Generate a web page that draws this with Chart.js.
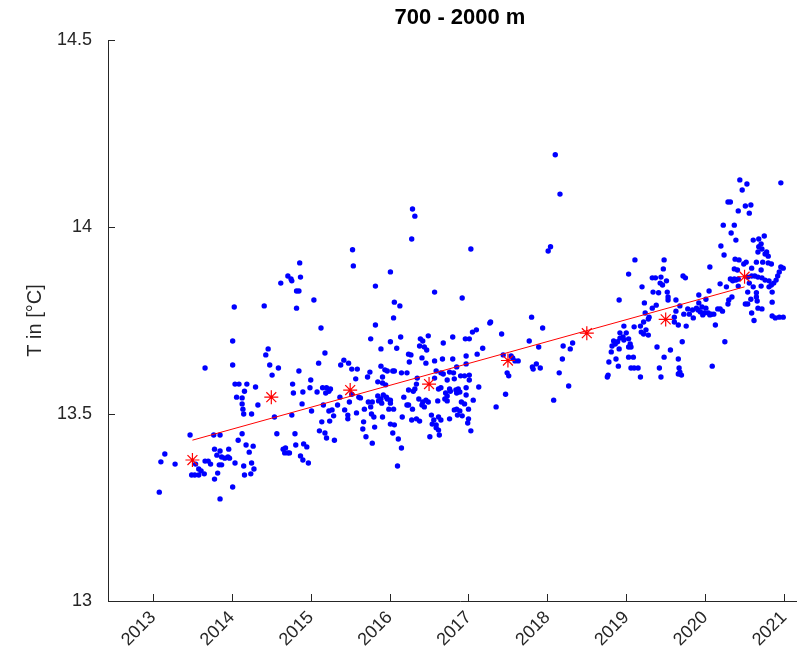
<!DOCTYPE html>
<html><head><meta charset="utf-8">
<script src="https://cdn.jsdelivr.net/npm/chart.js@4.4.1/dist/chart.umd.min.js"></script>
<style>
html,body{margin:0;padding:0;overflow:hidden;background:#fff;}
#wrap{position:relative;width:812px;height:662px;}
canvas{display:block;}
</style></head><body>
<div id="wrap"><canvas id="c" width="812" height="662" style="width:812px;height:662px"></canvas></div>
<script>
// ---- data: [decimal year, temperature °C] ----
const dots2013 = [[2013.66,13.623],[2013.47,13.444],[2013.77,13.444],[2013.85,13.444],[2013.15,13.393],[2013.78,13.406],[2013.85,13.401],[2013.96,13.406],[2013.81,13.390],[2013.87,13.385],[2013.91,13.382],[2013.95,13.385],[2013.97,13.382],[2013.10,13.372],[2013.28,13.366],[2013.66,13.374],[2013.70,13.374],[2013.73,13.366],[2013.54,13.366],[2013.84,13.364],[2013.87,13.364],[2013.58,13.353],[2013.61,13.348],[2013.49,13.337],[2013.53,13.337],[2013.58,13.337],[2013.65,13.340],[2013.82,13.342],[2013.78,13.326],[2013.08,13.291],[2013.85,13.273]];
const dots2014 = [[2014.03,13.786],[2014.01,13.695],[2014.01,13.631],[2014.04,13.580],[2014.09,13.580],[2014.19,13.580],[2014.30,13.572],[2014.16,13.561],[2014.06,13.545],[2014.13,13.543],[2014.13,13.527],[2014.14,13.513],[2014.15,13.500],[2014.25,13.500],[2014.33,13.524],[2014.13,13.447],[2014.08,13.430],[2014.18,13.417],[2014.27,13.414],[2014.22,13.398],[2014.04,13.369],[2014.15,13.361],[2014.25,13.369],[2014.28,13.353],[2014.16,13.337],[2014.24,13.340],[2014.01,13.305],[2014.86,13.904],[2014.71,13.869],[2014.75,13.861],[2014.76,13.856],[2014.87,13.866],[2014.62,13.850],[2014.82,13.829],[2014.85,13.829],[2014.41,13.789],[2014.82,13.783],[2014.46,13.674],[2014.43,13.658],[2014.48,13.631],[2014.59,13.623],[2014.51,13.604],[2014.85,13.615],[2014.77,13.580],[2014.99,13.570],[2014.78,13.556],[2014.90,13.559],[2014.89,13.527],[2014.54,13.492],[2014.76,13.497],[2014.57,13.447],[2014.80,13.447],[2014.65,13.406],[2014.68,13.409],[2014.71,13.396],[2014.67,13.396],[2014.73,13.396],[2014.81,13.417],[2014.91,13.420],[2014.95,13.412],[2014.87,13.388],[2014.90,13.377],[2014.97,13.369]];
const dots2015 = [[2015.53,13.939],[2015.54,13.896],[2015.04,13.805],[2015.13,13.730],[2015.76,13.701],[2015.18,13.663],[2015.10,13.636],[2015.42,13.644],[2015.38,13.631],[2015.48,13.636],[2015.52,13.620],[2015.59,13.620],[2015.75,13.612],[2015.72,13.599],[2015.57,13.594],[2015.00,13.591],[2015.15,13.570],[2015.20,13.570],[2015.23,13.561],[2015.25,13.567],[2015.08,13.559],[2015.19,13.556],[2015.37,13.545],[2015.52,13.553],[2015.61,13.545],[2015.63,13.543],[2015.16,13.524],[2015.34,13.524],[2015.49,13.532],[2015.73,13.532],[2015.23,13.508],[2015.27,13.511],[2015.29,13.495],[2015.01,13.508],[2015.43,13.511],[2015.47,13.497],[2015.47,13.487],[2015.58,13.503],[2015.68,13.513],[2015.77,13.500],[2015.80,13.492],[2015.14,13.479],[2015.24,13.481],[2015.67,13.479],[2015.11,13.455],[2015.18,13.449],[2015.20,13.436],[2015.30,13.430],[2015.66,13.460],[2015.70,13.439],[2015.78,13.422],[2015.82,13.842],[2015.82,13.738],[2015.89,13.674],[2015.89,13.628],[2015.94,13.618],[2015.97,13.615],[2015.91,13.599],[2015.85,13.586],[2015.91,13.583],[2015.95,13.578],[2015.92,13.551],[2015.89,13.540],[2015.96,13.545],[2015.85,13.548],[2015.97,13.540],[2015.78,13.532],[2015.76,13.519],[2015.86,13.535],[2015.90,13.529],[2015.99,13.513],[2015.91,13.492],[2015.81,13.465]];
const dots2016 = [[2016.29,14.048],[2016.32,14.029],[2016.28,13.968],[2016.01,13.880],[2016.57,13.826],[2016.92,13.810],[2016.06,13.799],[2016.13,13.789],[2016.05,13.757],[2016.14,13.706],[2016.39,13.701],[2016.42,13.695],[2016.49,13.709],[2016.80,13.706],[2016.96,13.701],[2016.01,13.693],[2016.09,13.676],[2016.38,13.682],[2016.44,13.679],[2016.47,13.671],[2016.68,13.690],[2016.24,13.660],[2016.27,13.658],[2016.41,13.650],[2016.97,13.655],[2016.57,13.642],[2016.67,13.647],[2016.80,13.647],[2016.25,13.639],[2016.46,13.636],[2016.97,13.634],[2016.85,13.626],[2016.04,13.615],[2016.06,13.615],[2016.15,13.610],[2016.22,13.610],[2016.59,13.615],[2016.65,13.610],[2016.68,13.607],[2016.76,13.612],[2016.81,13.610],[2016.90,13.602],[2016.95,13.602],[2016.35,13.596],[2016.57,13.596],[2016.82,13.594],[2016.73,13.591],[2016.34,13.580],[2016.62,13.567],[2016.65,13.570],[2016.76,13.567],[2016.77,13.561],[2016.87,13.567],[2016.97,13.570],[2016.32,13.567],[2016.24,13.564],[2016.01,13.537],[2016.18,13.545],[2016.30,13.561],[2016.37,13.540],[2016.42,13.532],[2016.46,13.537],[2016.49,13.532],[2016.71,13.556],[2016.73,13.548],[2016.70,13.540],[2016.84,13.564],[2016.85,13.556],[2016.89,13.559],[2016.97,13.551],[2016.73,13.535],[2016.61,13.535],[2016.91,13.532],[2016.01,13.529],[2016.22,13.524],[2016.24,13.524],[2016.29,13.513],[2016.41,13.524],[2016.44,13.519],[2016.82,13.511],[2016.85,13.513],[2016.89,13.508],[2016.95,13.527],[2016.05,13.513],[2016.16,13.492],[2016.28,13.484],[2016.34,13.487],[2016.38,13.481],[2016.53,13.497],[2016.56,13.484],[2016.62,13.492],[2016.65,13.484],[2016.76,13.487],[2016.86,13.497],[2016.92,13.495],[2016.01,13.473],[2016.06,13.471],[2016.54,13.473],[2016.59,13.471],[2016.59,13.463],[2016.62,13.457],[2016.99,13.476],[2016.04,13.449],[2016.51,13.439],[2016.63,13.444],[2016.11,13.433],[2016.15,13.409],[2016.10,13.361]];
const dots2017 = [[2017.03,13.941],[2017.27,13.743],[2017.05,13.719],[2017.10,13.725],[2017.01,13.701],[2017.18,13.676],[2017.11,13.660],[2017.01,13.604],[2017.01,13.591],[2017.13,13.572],[2017.06,13.537],[2017.00,13.513],[2017.00,13.487],[2017.03,13.455],[2017.28,13.746],[2017.80,13.759],[2017.94,13.730],[2017.42,13.714],[2017.77,13.695],[2017.89,13.679],[2017.44,13.658],[2017.54,13.655],[2017.56,13.650],[2017.59,13.642],[2017.63,13.642],[2017.81,13.626],[2017.82,13.620],[2017.86,13.634],[2017.91,13.623],[2017.49,13.610],[2017.51,13.602],[2017.47,13.553],[2017.35,13.519]];
const dots2018 = [[2018.10,14.193],[2018.16,14.088],[2018.04,13.947],[2018.01,13.936],[2018.20,13.682],[2018.32,13.690],[2018.29,13.674],[2018.19,13.647],[2018.15,13.610],[2018.27,13.575],[2018.08,13.537],[2018.91,13.805],[2018.97,13.735],[2018.92,13.717],[2018.96,13.706],[2018.92,13.703],[2018.97,13.698],[2018.84,13.695],[2018.86,13.687],[2018.82,13.682],[2018.89,13.693],[2018.91,13.674],[2018.81,13.666],[2018.87,13.647],[2018.78,13.639],[2018.90,13.628],[2018.77,13.604],[2018.76,13.599]];
const dots2019 = [[2019.11,13.912],[2019.48,13.912],[2019.47,13.888],[2019.03,13.874],[2019.33,13.864],[2019.37,13.864],[2019.44,13.866],[2019.43,13.850],[2019.46,13.845],[2019.51,13.856],[2019.72,13.869],[2019.75,13.864],[2019.20,13.840],[2019.34,13.826],[2019.41,13.824],[2019.52,13.826],[2019.53,13.813],[2019.53,13.805],[2019.92,13.818],[2019.63,13.805],[2019.23,13.797],[2019.38,13.791],[2019.33,13.783],[2019.24,13.770],[2019.68,13.789],[2019.78,13.781],[2019.84,13.778],[2019.89,13.783],[2019.91,13.778],[2019.94,13.773],[2019.96,13.786],[2019.99,13.770],[2019.63,13.775],[2019.73,13.767],[2019.80,13.767],[2019.85,13.757],[2019.97,13.765],[2019.29,13.759],[2019.28,13.754],[2019.22,13.746],[2019.61,13.759],[2019.61,13.746],[2019.66,13.738],[2019.76,13.735],[2019.10,13.733],[2019.18,13.735],[2019.19,13.719],[2019.22,13.714],[2019.28,13.711],[2019.25,13.725],[2019.00,13.717],[2019.03,13.701],[2019.05,13.687],[2019.06,13.679],[2019.03,13.679],[2019.71,13.693],[2019.39,13.679],[2019.56,13.671],[2019.03,13.652],[2019.09,13.652],[2019.48,13.652],[2019.66,13.647],[2019.06,13.623],[2019.10,13.623],[2019.15,13.623],[2019.42,13.623],[2019.67,13.623],[2019.68,13.612],[2019.66,13.607],[2019.18,13.599],[2019.44,13.599],[2019.70,13.604],[2019.92,13.797]];
const dots2020 = [[2020.06,13.893],[2020.05,13.829],[2020.01,13.807],[2020.01,13.783],[2020.16,13.781],[2020.06,13.765],[2020.11,13.767],[2020.13,13.738],[2020.09,13.628],[2020.44,14.126],[2020.53,14.115],[2020.47,14.099],[2020.96,14.118],[2020.29,14.067],[2020.32,14.067],[2020.51,14.056],[2020.58,14.059],[2020.42,14.043],[2020.56,14.037],[2020.23,14.005],[2020.37,14.005],[2020.33,13.984],[2020.39,13.965],[2020.61,13.965],[2020.68,13.968],[2020.75,13.976],[2020.71,13.955],[2020.68,13.947],[2020.67,13.933],[2020.72,13.941],[2020.76,13.928],[2020.80,13.922],[2020.78,13.933],[2020.20,13.949],[2020.24,13.925],[2020.38,13.914],[2020.43,13.912],[2020.49,13.901],[2020.52,13.906],[2020.65,13.906],[2020.73,13.906],[2020.80,13.904],[2020.84,13.901],[2020.96,13.893],[2020.99,13.890],[2020.37,13.888],[2020.41,13.885],[2020.59,13.890],[2020.71,13.885],[2020.94,13.880],[2020.92,13.869],[2020.90,13.858],[2020.87,13.850],[2020.84,13.845],[2020.32,13.861],[2020.37,13.861],[2020.42,13.861],[2020.35,13.856],[2020.39,13.858],[2020.54,13.866],[2020.59,13.869],[2020.63,13.869],[2020.67,13.866],[2020.72,13.864],[2020.76,13.858],[2020.81,13.856],[2020.56,13.850],[2020.19,13.848],[2020.27,13.840],[2020.42,13.842],[2020.61,13.840],[2020.71,13.842],[2020.81,13.840],[2020.54,13.826],[2020.65,13.824],[2020.85,13.826],[2020.65,13.813],[2020.66,13.802],[2020.34,13.813],[2020.30,13.805],[2020.29,13.794],[2020.58,13.807],[2020.54,13.794],[2020.85,13.799],[2020.51,13.794],[2020.67,13.783],[2020.72,13.781],[2020.19,13.781],[2020.22,13.775],[2020.04,13.770],[2020.08,13.767],[2020.59,13.770],[2020.85,13.762],[2020.89,13.757],[2020.94,13.759],[2020.99,13.759],[2020.62,13.750],[2020.25,13.693]];

const meanYears = [2013.5, 2014.5, 2015.5, 2016.5, 2017.5, 2018.5, 2019.5, 2020.5];
const meanTemps = [13.377, 13.545, 13.564, 13.580, 13.643, 13.716, 13.753, 13.867];
const trendYears = [2013.5, 2020.5];
const trendTemps = [13.430, 13.840];

const xTickValues = [2013, 2014, 2015, 2016, 2017, 2018, 2019, 2020, 2021];
const xTickLabels = ['2013', '2014', '2015', '2016', '2017', '2018', '2019', '2020', '2021'];
const yTickValues = [13, 13.5, 14, 14.5];
const yTickLabels = ['13', '13.5', '14', '14.5'];
const titleText = '700 - 2000 m';
const yAxisLabel = 'T in [°C]';

// ---- chart ----
const FONT = 'Liberation Sans, Arial, Helvetica, sans-serif';
const AXIS = '#262626';
const allDots = [].concat(dots2013, dots2014, dots2015, dots2016, dots2017, dots2018, dots2019, dots2020);

const inwardTicks = {
  id: 'inwardTicks',
  afterDatasetsDraw(chart) {
    const {ctx, chartArea, scales} = chart;
    const x = scales.x, y = scales.y;
    ctx.save();
    ctx.strokeStyle = AXIS;
    ctx.lineWidth = 1;
    ctx.beginPath();
    xTickValues.forEach(v => {
      const px = Math.round(x.getPixelForValue(v)) + 0.5;
      ctx.moveTo(px, chartArea.bottom);
      ctx.lineTo(px, chartArea.bottom - 7);
    });
    yTickValues.forEach(v => {
      const py = Math.round(y.getPixelForValue(v)) + 0.5;
      ctx.moveTo(chartArea.left, py);
      ctx.lineTo(chartArea.left + 7, py);
    });
    ctx.stroke();
    ctx.restore();
  }
};

new Chart(document.getElementById('c'), {
  type: 'scatter',
  data: {
    datasets: [
      { label: 'trend', data: trendYears.map((v, i) => ({x: v, y: trendTemps[i]})), showLine: true,
        borderColor: '#ff0000', borderWidth: 1, pointRadius: 0, order: 0 },
      { label: 'means', data: meanYears.map((v, i) => ({x: v, y: meanTemps[i]})), pointStyle: 'star',
        pointRadius: 7, borderColor: '#ff0000', backgroundColor: '#ff0000', borderWidth: 1.2, order: 1 },
      { label: 'obs', data: allDots.map(p => ({x: p[0], y: p[1]})), pointRadius: 2.7,
        backgroundColor: '#0000ff', borderWidth: 0, order: 2 }
    ]
  },
  options: {
    responsive: false, maintainAspectRatio: false, animation: false, events: [],
    layout: { padding: 0, autoPadding: false },
    plugins: {
      legend: { display: false }, tooltip: { enabled: false },
      title: { display: true, text: titleText, fullSize: false, color: '#000',
        font: { family: FONT, size: 22, weight: 'bold' }, padding: { top: 5, bottom: 8.6 } }
    },
    scales: {
      x: {
        type: 'linear', position: 'bottom', min: 2012.4295, max: 2021.355,
        afterBuildTicks: s => { s.ticks = xTickValues.map(v => ({value: v})); },
        afterFit: s => { s.height = 61; s.paddingLeft = 0; s.paddingRight = 0; },
        grid: { display: false, drawTicks: false },
        border: { display: true, color: AXIS, width: 1 },
        ticks: { autoSkip: false, maxRotation: 45, minRotation: 45, padding: 6, color: AXIS,
          font: { family: FONT, size: 18 }, callback: (v, i) => xTickLabels[i] }
      },
      y: {
        type: 'linear', position: 'left', min: 13, max: 14.5,
        afterBuildTicks: s => { s.ticks = yTickValues.map(v => ({value: v})); },
        afterFit: s => { s.width = 108; s.paddingTop = 0; s.paddingBottom = 0; },
        grid: { display: false, drawTicks: false },
        border: { display: true, color: AXIS, width: 1 },
        title: { display: true, text: yAxisLabel, color: AXIS, font: { family: FONT, size: 20 }, padding: { top: 23, bottom: 0 } },
        ticks: { padding: 16, color: AXIS, font: { family: FONT, size: 18 }, callback: (v, i) => yTickLabels[i] }
      }
    }
  },
  plugins: [inwardTicks]
});
</script>
</body></html>
